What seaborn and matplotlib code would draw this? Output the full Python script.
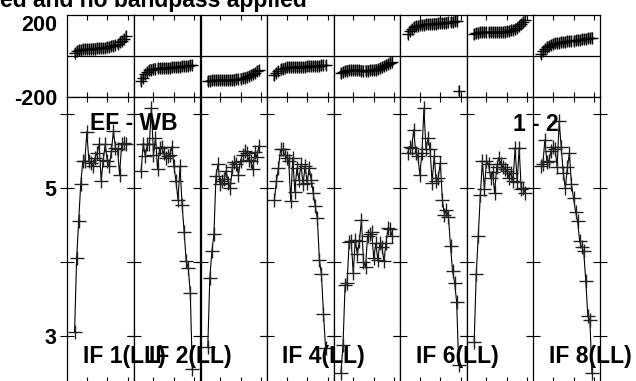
import numpy as np
import pandas as pd
import matplotlib
matplotlib.use('Agg')
import matplotlib.pyplot as plt
import seaborn as sns

# channels plotted in every IF
channels = list(range(4, 30))

amp_if1 = [3.05, 4.05, 4.55, 5.05, 5.36, 5.36, 5.76, 5.36, 5.34, 5.29, 5.41, 5.47, 5.59,
           5.10, 5.38, 5.59, 5.36, 5.29, 5.50, 5.77, 5.54, 5.52, 5.18, 5.59, 5.61, 5.59]
amp_if2 = [5.23, 5.60, 5.43, 5.59, 5.60, 6.08, 5.45, 5.68, 5.25, 5.54, 5.56, 5.47, 5.40,
           5.43, 5.45, 5.56, 5.30, 5.09, 4.84, 5.29, 4.77, 4.41, 4.01, 3.92, 3.58, 2.55]
amp_if3 = [2.85, 3.78, 4.14, 4.37, 5.16, 5.32, 5.05, 5.09, 5.12, 5.23, 5.07, 5.00, 5.28,
           5.35, 5.33, 5.18, 5.37, 5.45, 5.50, 5.47, 5.38, 5.36, 5.25, 5.48, 5.42, 5.57]
amp_if4 = [4.83, 5.09, 5.27, 5.52, 5.52, 5.45, 5.41, 5.36, 4.82, 5.41, 4.95, 5.27, 5.11,
           5.32, 5.05, 5.30, 5.07, 5.27, 5.11, 4.93, 4.75, 4.59, 4.03, 3.83, 3.30, 2.84]
amp_if5 = [2.50, 2.88, 3.68, 3.72, 4.27, 4.28, 3.85, 4.30, 4.10, 4.28, 4.57, 4.00, 3.93,
           4.35, 4.37, 4.40, 4.05, 4.25, 4.03, 4.25, 4.20, 4.01, 4.25, 4.46, 4.45, 4.35]
amp_if6 = [5.47, 5.56, 5.54, 5.79, 5.47, 5.43, 5.18, 5.47, 6.08, 5.52, 5.68, 5.52, 5.07,
           5.43, 5.09, 5.14, 5.34, 4.84, 4.64, 4.70, 4.60, 4.21, 3.87, 3.72, 3.45, 2.60]
amp_if7 = [2.92, 3.83, 4.35, 4.90, 5.36, 4.98, 5.36, 5.32, 5.14, 5.22, 4.93, 5.28, 5.41,
           5.33, 5.28, 5.25, 5.23, 5.14, 5.20, 5.10, 5.54, 5.08, 5.54, 4.98, 5.00, 4.93]
amp_if8 = [5.29, 5.32, 5.65, 5.35, 5.37, 5.50, 5.55, 5.53, 5.28, 5.90, 5.55, 5.20, 5.00,
           5.28, 5.47, 5.05, 4.86, 4.68, 4.55, 4.28, 4.20, 4.14, 3.74, 3.27, 3.21, 2.50]

phase_if1 = [15, 22, 27, 30, 32, 33, 34, 35, 35, 36, 36, 37, 37,
             38, 39, 40, 42, 44, 47, 51, 55, 60, 66, 74, 84, 96]
phase_if2 = [-120, -105, -90, -78, -70, -66, -63, -61, -60, -59, -58, -58, -58,
             -57, -57, -56, -55, -54, -53, -52, -51, -50, -48, -47, -45, -43]
phase_if3 = [-122, -120, -119, -118, -118, -118, -118, -118, -118, -118, -117, -117, -116,
             -115, -114, -112, -110, -108, -105, -102, -98, -93, -88, -82, -75, -68]
phase_if4 = [-95, -82, -72, -65, -61, -58, -56, -55, -54, -54, -53, -53, -53,
             -52, -52, -52, -51, -51, -50, -50, -49, -48, -47, -46, -45, -44]
phase_if5 = [-85, -78, -74, -71, -70, -69, -68, -68, -69, -70, -71, -71, -71,
             -71, -70, -69, -68, -66, -63, -60, -56, -51, -45, -38, -32, -27]
phase_if6 = [108, 122, 132, 140, 145, 148, 150, 152, 153, 154, 155, 156, 157,
             158, 158, 159, 160, 161, 162, 163, 164, 165, 167, 169, 172, -172]
phase_if7 = [105, 110, 113, 115, 116, 116, 116, 116, 116, 116, 116, 116, 117,
             117, 118, 119, 120, 122, 125, 128, 132, 138, 146, 156, 165, 175]
phase_if8 = [8, 22, 35, 44, 50, 55, 58, 61, 63, 65, 67, 69, 70,
             72, 73, 74, 75, 77, 78, 79, 81, 82, 84, 86, 88, 90]
phase_err = 25

amps = [amp_if1, amp_if2, amp_if3, amp_if4, amp_if5, amp_if6, amp_if7, amp_if8]
phases = [phase_if1, phase_if2, phase_if3, phase_if4, phase_if5, phase_if6, phase_if7, phase_if8]

# only these IF labels are visible in the frame
if_labels = ['IF 1(LL)', 'IF 2(LL)', '', 'IF 4(LL)', '', 'IF 6(LL)', '', 'IF 8(LL)']
amp_ticks = [3, 4, 5, 6]
amp_ticklabels = ['3', '', '5', '']
phase_ticks = [-200, 200]
phase_ticklabels = ['-200', '200']
chan_ticks = [10, 20, 30]
title = 'ed and no bandpass applied'
baseline_label = 'EF - WB'
pol_label = '1 - 2'

rows = []
for i in range(8):
    for c, a, p in zip(channels, amps[i], phases[i]):
        rows.append({'IF': i + 1, 'channel': c, 'amp': a, 'phase': p})
df = pd.DataFrame(rows)

sns.set_style('white')
plt.rcParams['font.family'] = ['Liberation Sans', 'DejaVu Sans']
plt.rcParams['font.weight'] = 'bold'
for key in ['text.color', 'axes.labelcolor', 'xtick.color', 'ytick.color', 'axes.edgecolor']:
    plt.rcParams[key] = 'black'

W, H = 636, 381
fig = plt.figure(figsize=(W / 100, H / 100), dpi=100)


def fx(px):
    return px / W


def fy(py):
    return 1 - py / H


x0 = 67.3
pw = 66.6
for i in range(8):
    d = df[df['IF'] == i + 1]
    left = x0 + i * pw
    axp = fig.add_axes([fx(left), fy(97), pw / W, 82 / H])
    axa = fig.add_axes([fx(left), fy(382), pw / W, 285 / H])

    # phase panel: grey error bars + black crosses
    axp.vlines(d['channel'], d['phase'] - phase_err, d['phase'] + phase_err,
               color='0.45', lw=1.1)
    sns.scatterplot(data=d, x='channel', y='phase', ax=axp, color='black',
                    marker='+', s=70, linewidth=1.0, zorder=3)
    axp.axhline(0, color='black', lw=0.9)
    axp.set_ylim(-200, 200)
    axp.set_xlim(0.44, 33.0)
    axp.set_xticks(chan_ticks)
    axp.set_yticks(phase_ticks)
    axp.set_yticklabels(phase_ticklabels)
    axp.tick_params(axis='x', direction='in', length=3.5, width=0.8, top=True,
                    bottom=True, labelbottom=False)
    axp.tick_params(axis='y', length=0, pad=7, labelsize=15.5, labelleft=(i == 0))
    if i == 0:
        for lbl in axp.get_yticklabels():
            if lbl.get_text() == '200':
                lbl.set_va('top')

    # amplitude panel
    sns.lineplot(data=d, x='channel', y='amp', ax=axa, estimator=None, sort=False,
                 color='black', linewidth=0.8, marker='+', markersize=9.5,
                 markeredgewidth=1.0, markeredgecolor='#222222')
    axa.set_ylim(2.374, 6.23)
    axa.set_xlim(0.44, 33.0)
    axa.set_xticks(chan_ticks)
    axa.set_yticks(amp_ticks)
    axa.set_yticklabels(amp_ticklabels)
    axa.tick_params(axis='x', direction='in', length=3.5, width=0.8, top=True,
                    bottom=True, labelbottom=False)
    axa.tick_params(axis='y', direction='inout', length=9.4, width=0.8, left=True,
                    right=True, pad=3, labelsize=15.5, labelleft=(i == 0))

    for ax in (axp, axa):
        ax.set_xlabel('')
        ax.set_ylabel('')
        for s in ax.spines.values():
            s.set_color('black')
            s.set_linewidth(0.9)

    if if_labels[i]:
        fig.text(fx(left + 15.4), fy(363.5), if_labels[i], fontsize=16.5,
                 weight='bold', ha='left', va='baseline', color='black')

fig.text(fx(307), fy(7), title, fontsize=16.5, weight='bold', ha='right', va='baseline',
         color='black')
fig.text(fx(90), fy(130), baseline_label, fontsize=16.5, weight='bold', ha='left',
         va='baseline', color='black')
fig.text(fx(513), fy(130.5), pol_label, fontsize=16.5, weight='bold', ha='left',
         va='baseline', color='black')

fig.savefig('out.png', dpi=100)
